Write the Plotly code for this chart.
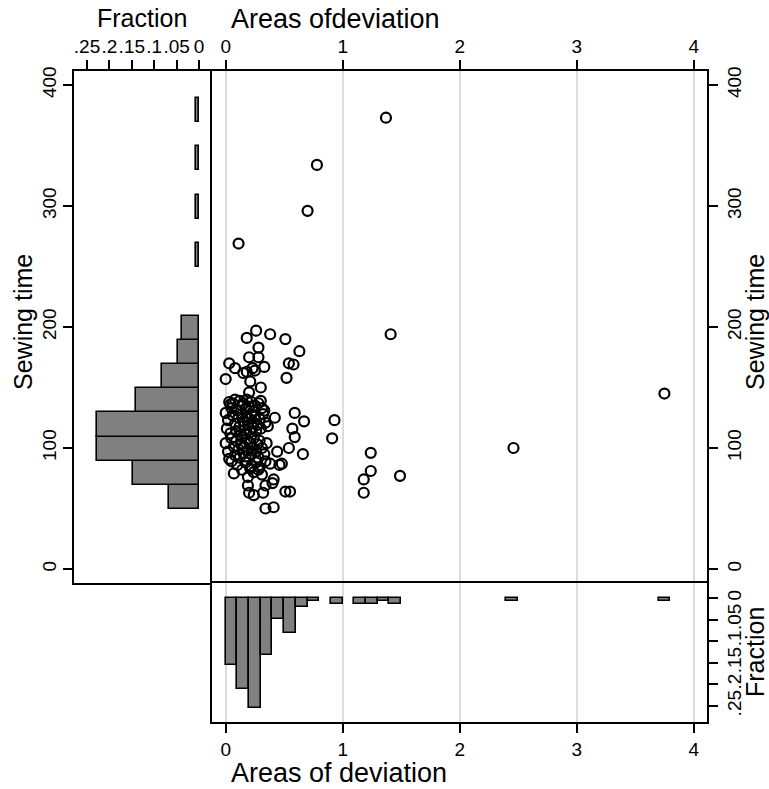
import plotly.graph_objects as go

# ---------------- data ----------------
# scatter: areas of deviation (x) vs sewing time (y)
area = [
    0.26, 0.38, 0.18, 0.51, 0.28, 0.63, 0.20, 0.28, 0.03, 0.54, 0.58, 0.08, 0.23, 0.33, 0.15, 0.18,
    0.25, 0.00, 0.52, 0.21, 0.30, 0.20, 1.41,
    0.59, 0.67, 0.57, 0.59, 0.54, 0.66, 0.93, 0.91, 1.24, 1.24, 1.18, 1.49, 1.18, 2.46, 3.75,
    1.37, 0.11, 0.70, 0.78,
    0.07, 0.19, 0.19, 0.20, 0.24, 0.32, 0.34, 0.40, 0.41, 0.51, 0.55, 0.34, 0.41, 0.46, 0.48,
    0.24, 0.28, 0.21, 0.31, 0.05, 0.34,
    0.03, 0.04, 0.06, 0.05, 0.12, 0.15, 0.18, 0.22, 0.25, 0.28, 0.30, 0.31, 0.10, 0.17, 0.20,
    0.24, 0.33, 0.14, 0.08,
    0.00, 0.02, 0.01, 0.04, 0.06, 0.08, 0.09, 0.11, 0.12, 0.13, 0.14, 0.15, 0.16, 0.17, 0.18,
    0.19, 0.20, 0.21, 0.22, 0.23, 0.24, 0.25, 0.26, 0.27, 0.29, 0.30, 0.32, 0.34, 0.36, 0.42,
    0.00, 0.02, 0.03, 0.05, 0.07, 0.08, 0.09, 0.11, 0.12, 0.13, 0.14, 0.15, 0.16, 0.17, 0.18,
    0.19, 0.21, 0.22, 0.23, 0.24, 0.26, 0.27, 0.28, 0.29, 0.31, 0.33, 0.35, 0.44,
    0.10, 0.14, 0.17, 0.22, 0.26, 0.29, 0.38,
]
sewing = [
    197, 194, 191, 190, 183, 180, 175, 175, 170, 170, 169, 166, 166, 167, 162, 163,
    164, 157, 158, 155, 150, 146, 194,
    129, 122, 116, 109, 100, 95, 123, 108, 96, 81, 74, 77, 63, 100, 145,
    373, 269, 296, 334,
    79, 76, 69, 63, 61, 63, 69, 71, 74, 64, 64, 50, 51, 86, 87,
    80, 82, 83, 78, 89, 89,
    138, 136, 137, 133, 139, 137, 140, 138, 135, 137, 139, 133, 131, 132, 134,
    131, 131, 135, 140,
    129, 123, 116, 112, 127, 120, 114, 125, 118, 111, 128, 122, 115, 112, 126,
    119, 124, 113, 128, 117, 121, 126, 114, 119, 124, 116, 128, 121, 118, 125,
    104, 97, 91, 108, 101, 94, 106, 99, 92, 103, 109, 96, 101, 93, 107,
    98, 104, 95, 100, 108, 97, 103, 92, 106, 100, 95, 104, 97,
    86, 82, 88, 85, 88, 84, 87,
]

# histogram of sewing time (bin start, fraction)
sew_bin_start = [49.5, 69.5, 89.5, 109.5, 129.5, 149.5, 169.5, 189.5, 249.5, 289.5, 329.5, 369.5]
sew_fraction = [0.066, 0.147, 0.228, 0.228, 0.140, 0.082, 0.046, 0.037, 0.0067, 0.0067, 0.0067, 0.0067]

# histogram of areas of deviation (bin start, fraction)
area_bin_start = [0.0, 0.1, 0.2, 0.3, 0.4, 0.5, 0.6, 0.7, 0.9, 1.1, 1.2, 1.3, 1.4, 2.4, 3.7]
area_fraction = [0.155, 0.211, 0.255, 0.132, 0.049, 0.080, 0.020, 0.0067, 0.0133, 0.0133,
                 0.0133, 0.0067, 0.0133, 0.0067, 0.0067]

area_ticks = [0, 1, 2, 3, 4]
sew_ticks = [0, 100, 200, 300, 400]
frac_ticks = [0.25, 0.2, 0.15, 0.1, 0.05, 0]
frac_labels = [".25", ".2", ".15", ".1", ".05", "0"]

# ---------------- figure ----------------
FONT = "Liberation Sans, Arial, sans-serif"
TICKF = dict(family=FONT, size=19, color="black")
BAR_FILL = "#808080"

fig = go.Figure()

fig.add_trace(go.Scatter(
    x=area, y=sewing, mode="markers", xaxis="x", yaxis="y",
    marker=dict(symbol="circle-open", size=10, color="black", line=dict(width=2.2, color="black")),
    hoverinfo="x+y",
))

fig.add_trace(go.Bar(
    y=sew_bin_start, x=sew_fraction, orientation="h", width=20, offset=0,
    xaxis="x2", yaxis="y2",
    marker=dict(color=BAR_FILL, line=dict(color="black", width=1.6)),
))

fig.add_trace(go.Bar(
    x=area_bin_start, y=area_fraction, width=0.1, offset=0,
    xaxis="x3", yaxis="y3",
    marker=dict(color=BAR_FILL, line=dict(color="black", width=1.6)),
))

common = dict(showline=True, linecolor="black", linewidth=1.5,
              ticks="outside", ticklen=9, tickwidth=1.5, tickcolor="black",
              tickfont=TICKF, zeroline=False)

XL = 0.218   # left panel / main panel split (fraction of plot width)
YB = 0.2135  # bottom panel / main panel split

Y_RANGE = [-11.6, 411.6]
X_RANGE = [-0.117, 4.114]

fig.update_layout(
    width=769, height=789,
    margin=dict(l=74, r=62, t=71, b=67),
    paper_bgcolor="white", plot_bgcolor="white",
    showlegend=False, bargap=0,
    xaxis=dict(domain=[XL, 1], anchor="y", side="top", range=X_RANGE, mirror=False,
               tickmode="array", tickvals=area_ticks, tickangle=0,
               showgrid=True, gridcolor="#dcdcdc", gridwidth=1.6, **common),
    yaxis=dict(domain=[YB, 1], anchor="x", side="right", range=Y_RANGE, mirror=True,
               tickmode="array", tickvals=sew_ticks, tickangle=-90,
               showgrid=False, **common),
    xaxis2=dict(domain=[0, XL], anchor="y2", side="top", range=[0.279, -0.029], mirror=True,
                tickmode="array", tickvals=frac_ticks, ticktext=frac_labels, tickangle=0,
                showgrid=False, **common),
    yaxis2=dict(domain=[YB, 1], anchor="x2", side="left", range=Y_RANGE, mirror=False,
                tickmode="array", tickvals=sew_ticks, tickangle=-90,
                showgrid=False, **common),
    xaxis3=dict(domain=[XL, 1], anchor="y3", side="bottom", range=X_RANGE, mirror=True,
                tickmode="array", tickvals=area_ticks, tickangle=0,
                showgrid=True, gridcolor="#dcdcdc", gridwidth=1.6, **common),
    yaxis3=dict(domain=[0, YB], anchor="x3", side="right", range=[0.287, -0.035], mirror=True,
                tickmode="array", tickvals=frac_ticks, ticktext=frac_labels, tickangle=-90,
                showgrid=False, **common),
)

# axis titles (placed as in the reference)
def px_x(px):
    return (px - 74) / 633.0

def px_y(py):
    return (722 - py) / 651.0

titles = [
    ("Fraction", 142, 18, 0, 25),
    ("Areas ofdeviation", 335, 19, 0, 27),
    ("Areas of deviation", 339, 773, 0, 27),
    ("Sewing time", 23, 322, -90, 25),
    ("Sewing time", 755, 322, -90, 25),
    ("Fraction", 755, 652, -90, 25),
]
for text, x, y, ang, size in titles:
    fig.add_annotation(text=text, xref="paper", yref="paper", x=px_x(x), y=px_y(y),
                       xanchor="center", yanchor="middle", showarrow=False,
                       textangle=ang, font=dict(family=FONT, size=size, color="black"))

# remove the default page margin so the figure sits at the window's top-left corner
fig.write_html("out.html", config={"displayModeBar": False},
               post_script="document.body.style.margin='0px';")
